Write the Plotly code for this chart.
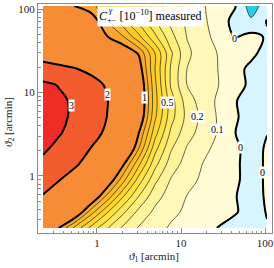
import plotly.graph_objects as go

# theta_1 grid (arcmin), theta_2 grid (arcmin)
theta1 = [0.2276, 0.353, 0.547, 0.848, 1.315, 2.04, 3.16, 4.90, 7.60, 11.8, 18.3, 28.3, 44.0, 68.1, 105.6]
theta2 = [0.238, 0.371, 0.576, 0.896, 1.39, 2.16, 3.27, 5.09, 7.91, 12.3, 19.1, 29.7, 46.2, 71.8, 108.6]

# C_{+-}^gamma [1e-10] measured, rows follow theta2 (bottom -> top), columns follow theta1
c_row01 = [1.55, 0.988, 0.771, 0.567, 0.409, 0.281, 0.190, 0.134, 0.088, 0.058, 0.027, -0.004, -0.035, -0.04, -0.005]
c_row02 = [1.75, 1.442, 1.135, 0.85, 0.614, 0.422, 0.271, 0.179, 0.121, 0.084, 0.059, 0.033, 0.008, -0.035, 0.004]
c_row03 = [1.97, 1.698, 1.425, 1.153, 0.88, 0.614, 0.40, 0.238, 0.158, 0.098, 0.067, 0.035, 0.004, -0.035, 0.01]
c_row04 = [2.3, 2.018, 1.717, 1.415, 1.113, 0.84, 0.55, 0.325, 0.192, 0.131, 0.083, 0.049, 0.015, -0.035, 0.012]
c_row05 = [2.8, 2.444, 2.089, 1.733, 1.378, 1.022, 0.72, 0.433, 0.25, 0.16, 0.097, 0.056, 0.015, -0.035, 0.012]
c_row06 = [3.15, 2.78, 2.39, 1.99, 1.619, 1.238, 0.901, 0.54, 0.3125, 0.192, 0.128, 0.07, 0.017, -0.035, 0.01]
c_row07 = [3.35, 3.07, 2.692, 2.282, 1.865, 1.432, 0.998, 0.64, 0.378, 0.24, 0.158, 0.089, 0.001, -0.035, -0.002]
c_row08 = [3.4, 3.163, 2.865, 2.432, 1.995, 1.556, 1.111, 0.72, 0.4375, 0.271, 0.168, 0.086, 0.01, -0.035, -0.008]
c_row09 = [3.4, 3.163, 2.868, 2.447, 2.026, 1.583, 1.139, 0.74, 0.443, 0.25, 0.152, 0.081, 0.005, -0.035, -0.02]
c_row10 = [3.2, 2.957, 2.617, 2.277, 1.925, 1.525, 1.125, 0.725, 0.386, 0.199, 0.15, 0.099, 0.038, -0.02, -0.03]
c_row11 = [2.3, 2.17, 2.04, 1.825, 1.571, 1.317, 1.063, 0.699, 0.386, 0.199, 0.148, 0.096, 0.029, -0.02, -0.03]
c_row12 = [1.65, 1.52, 1.43, 1.32, 1.21, 1.10, 0.986, 0.699, 0.417, 0.22, 0.148, 0.093, 0.057, 0.020, -0.03]
c_row13 = [1.55, 1.415, 1.279, 1.144, 1.008, 0.912, 0.725, 0.525, 0.333, 0.196, 0.135, 0.061, -0.005, 0.03, -0.01]
c_row14 = [1.52, 1.374, 1.228, 1.082, 0.899, 0.74, 0.578, 0.41, 0.273, 0.181, 0.119, 0.045, -0.03, -0.085, 0.005]
c_row15 = [1.5, 1.224, 0.989, 0.932, 0.83, 0.67, 0.51, 0.358, 0.244, 0.167, 0.107, 0.056, 0.006, -0.15, -0.05]

z = [c_row01, c_row02, c_row03, c_row04, c_row05, c_row06, c_row07, c_row08,
     c_row09, c_row10, c_row11, c_row12, c_row13, c_row14, c_row15]

x_ticks = [1, 10, 100]
y_ticks = [1, 10, 100]

# band colours: below -0.1, [-0.1,0], [0,0.1] ... [0.9,1], [1,2] x10, [2,3] x10, above 3
band_colors = (["rgb(40,205,235)", "rgb(215,245,255)",
                "rgb(255,252,214)", "rgb(255,248,184)", "rgb(255,244,156)", "rgb(255,239,126)",
                "rgb(255,233,96)", "rgb(255,225,68)", "rgb(255,214,48)", "rgb(253,201,42)",
                "rgb(251,185,44)", "rgb(249,166,48)"]
               + ["rgb(246,140,54)"] * 10 + ["rgb(243,92,46)"] * 10 + ["rgb(240,44,38)"])
nb = len(band_colors)  # 33
cscale = []
for j, col in enumerate(band_colors):
    lo = max(0.0, (j - 0.5) / (nb - 1))
    hi = min(1.0, (j + 0.5) / (nb - 1))
    cscale.append([lo, col])
    cscale.append([hi, col])

fig = go.Figure()
fig.add_trace(go.Contour(
    x=theta1, y=theta2, z=z, autocontour=False,
    contours=dict(start=-0.1, end=3.0, size=0.1, coloring="fill", showlines=False),
    colorscale=cscale, showscale=False, line=dict(width=0, smoothing=1), hoverinfo="skip"))
fig.add_trace(go.Contour(
    x=theta1, y=theta2, z=z, autocontour=False,
    contours=dict(start=-0.1, end=0.9, size=0.1, coloring="none"),
    showscale=False, line=dict(color="black", width=0.6, smoothing=1), hoverinfo="skip"))
fig.add_trace(go.Contour(
    x=theta1, y=theta2, z=z, autocontour=False,
    contours=dict(start=0, end=3, size=1, coloring="none"),
    showscale=False, line=dict(color="black", width=2, smoothing=1), hoverinfo="skip"))

serif = "Liberation Serif"
minor_vals = [k * 10 ** e for e in (-1, 0, 1) for k in range(2, 10)]
axis_common = dict(type="log", showgrid=False, zeroline=False, showline=True, linecolor="#8c8c8c",
                   linewidth=1, mirror=True, ticks="inside", ticklen=5, tickcolor="#8c8c8c",
                   automargin=False,
                   tickfont=dict(family=serif, size=11, color="#222"),
                   minor=dict(tickvals=minor_vals, ticks="inside", ticklen=2.5, tickcolor="#8c8c8c"))
fig.update_layout(
    width=274, height=268, margin=dict(l=38, r=2, t=4, b=35),
    plot_bgcolor="white", paper_bgcolor="white", showlegend=False,
    xaxis=dict(range=[-0.702, 2.083], tickvals=x_ticks, ticktext=[str(v) for v in x_ticks], **axis_common),
    yaxis=dict(range=[-0.683, 2.060], tickvals=y_ticks, ticktext=[str(v) for v in y_ticks], **axis_common),
)

labels = [("3", 72, 106), ("2", 108, 95), ("1", 144, 98), ("0.5", 167, 103), ("0.2", 197, 117),
          ("0.1", 217, 130), ("0", 234, 38), ("0", 240, 148), ("0", 262, 173)]
def px2u(px):
    return (px - 97) / 84.0
def py2v(py):
    return (176 - py) / 83.5
for t, px, py in labels:
    fig.add_annotation(x=px2u(px), y=py2v(py), xref="x", yref="y", text=t, showarrow=False,
                       bgcolor="white", borderpad=0, font=dict(family=serif, size=10, color="black"))

fig.add_annotation(x=px2u(150), y=py2v(16), xref="x", yref="y",
                   text="<i>C</i><sub>+−</sub> [10<sup>−10</sup>] measured", showarrow=False,
                   bgcolor="white", borderpad=1, font=dict(family=serif, size=12, color="black"))
fig.add_annotation(x=px2u(111), y=py2v(10), xref="x", yref="y", text="<i>γ</i>", showarrow=False,
                   font=dict(family=serif, size=8, color="black"))

fig.add_annotation(x=(154 - 38) / 234, y=(233 - 257) / 229, xref="paper", yref="paper",
                   xanchor="center", yanchor="middle",
                   text="<i>ϑ</i><sub>1</sub> [arcmin]", showarrow=False,
                   font=dict(family=serif, size=11, color="#222"))
fig.add_annotation(x=(9 - 38) / 234, y=(233 - 122) / 229, xref="paper", yref="paper",
                   xanchor="center", yanchor="middle",
                   text="<i>ϑ</i><sub>2</sub> [arcmin]", showarrow=False, textangle=-90,
                   font=dict(family=serif, size=11, color="#222"))

fig.write_html("out.html", config={"displayModeBar": False},
               post_script="document.body.style.margin='0px';")
